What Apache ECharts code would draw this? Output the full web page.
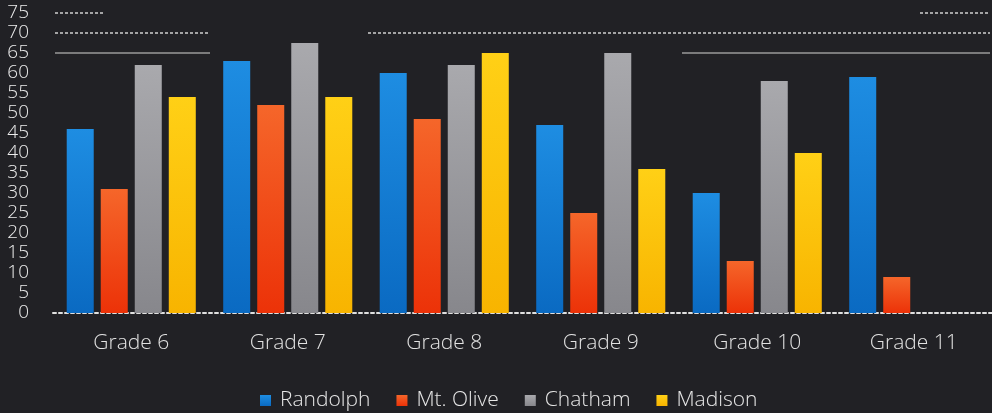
<!DOCTYPE html>
<html><head><meta charset="utf-8">
<script src="https://cdn.jsdelivr.net/npm/echarts@6/dist/echarts.min.js"></script>
<style>html,body{margin:0;padding:0;background:#212125;}#c{width:992px;height:413px;}</style>
</head><body><div id="c"></div>
<script>
const categories = ['Grade 6','Grade 7','Grade 8','Grade 9','Grade 10','Grade 11'];
const seriesNames = ['Randolph','Mt. Olive','Chatham','Madison'];
const randolph = [46, 63, 60, 47, 30, 59];
const mtOlive = [31, 52, 48.5, 25, 13, 9];
const chatham = [62, 67.5, 62, 65, 58, null];
const madison = [54, 54, 65, 36, 40, null];
const yTicks = {min: 0, max: 75, interval: 5};

const colors = [
  ['#1e8de2', '#0a6ac2'],
  ['#f5662a', '#ec3208'],
  ['#a9a9ad', '#87878c'],
  ['#ffd016', '#f8b400']
];
const dataSets = [randolph, mtOlive, chatham, madison];
const font = 'Open Sans';

const chart = echarts.init(document.getElementById('c'), null, {renderer: 'canvas'});
chart.setOption({
  backgroundColor: '#212125',
  animation: false,
  textStyle: {fontFamily: font},
  grid: {left: 53, top: 13, width: 941, height: 300, containLabel: false},
  legend: {
    left: 255, top: 385,
    itemWidth: 11, itemHeight: 11, itemGap: 26,
    icon: 'rect',
    textStyle: {color: '#e6e6e6', fontSize: 21, fontFamily: font, fontWeight: 300, padding: [0,0,0,4]},
    data: seriesNames
  },
  xAxis: {
    type: 'category', data: categories,
    axisLine: {show: true, lineStyle: {color: '#e0e0e0', width: 2, type: [3, 3]}},
    axisTick: {show: false},
    axisLabel: {color: '#e2e2e2', fontSize: 21, margin: 20, fontFamily: font, fontWeight: 300},
    splitLine: {show: false}
  },
  yAxis: {
    type: 'value', min: yTicks.min, max: yTicks.max, interval: yTicks.interval,
    axisLine: {show: false}, axisTick: {show: false},
    splitLine: {show: false},
    axisLabel: {color: '#ececec', fontSize: 19, margin: 24, fontFamily: font, fontWeight: 300}
  },
  series: seriesNames.map((n, i) => ({
    name: n, type: 'bar', data: dataSets[i],
    barWidth: 27, barGap: '26%',
    itemStyle: {
      color: new echarts.graphic.LinearGradient(0, 0, 0, 1, [
        {offset: 0, color: colors[i][0]}, {offset: 1, color: colors[i][1]}
      ]),
      shadowColor: 'rgba(0,0,0,0.7)', shadowBlur: 4, shadowOffsetX: 3, shadowOffsetY: 0
    }
  }))
});

// faint partial gridline artifacts near the top of the photo
function yPix(v){ return chart.convertToPixel({yAxisIndex: 0}, v); }
const deco = [
  [75, 55, 103, true], [75, 920, 990, true],
  [70, 55, 210, true], [70, 368, 990, true],
  [65, 55, 210, false], [65, 682, 990, false]
];
chart.setOption({
  graphic: deco.map(d => ({
    type: 'line', silent: true,
    shape: {x1: d[1], y1: yPix(d[0]), x2: d[2], y2: yPix(d[0])},
    style: {stroke: d[3] ? '#d0d0d0' : '#9a9a9a', lineWidth: 1.5, lineDash: d[3] ? [3, 2] : null}
  }))
});
</script></body></html>
